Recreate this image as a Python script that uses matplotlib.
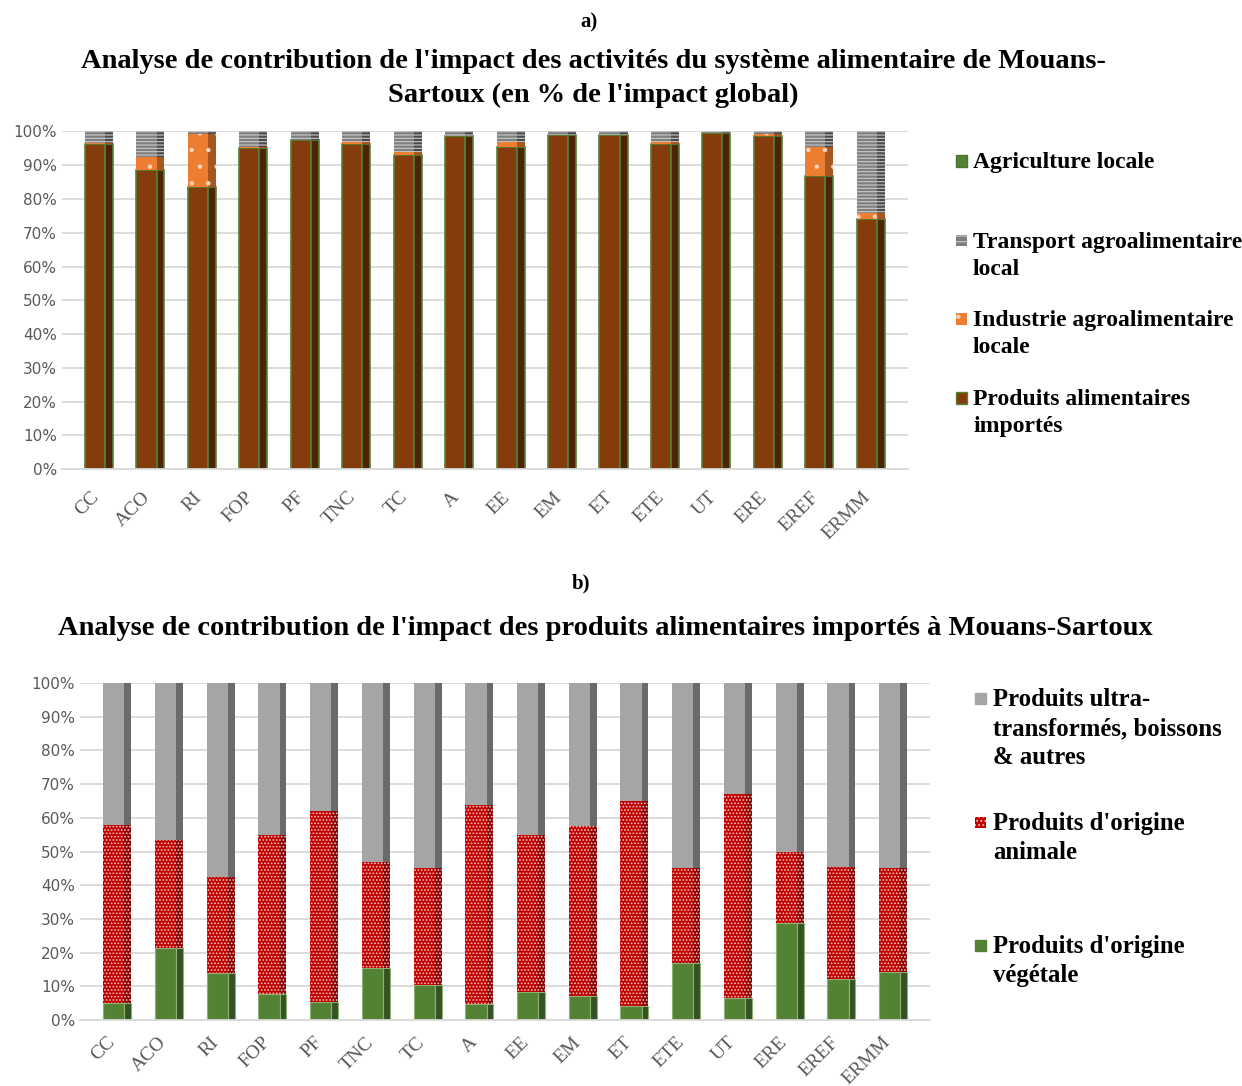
import numpy as np
import matplotlib.pyplot as plt
import matplotlib.patches as patches
import matplotlib.transforms as mtransforms

plt.rcParams['hatch.linewidth'] = 0.8

sites = ['CC', 'ACO', 'RI', 'FOP', 'PF', 'TNC', 'TC', 'A', 'EE', 'EM', 'ET',
         'ETE', 'UT', 'ERE', 'EREF', 'ERMM']

# a) contribution des activités (% de l'impact global)
importes = [96.2, 88.5, 83.4, 95.0, 97.6, 96.4, 92.9, 98.5, 95.4, 98.8, 99.0,
            96.2, 99.6, 98.6, 86.7, 74.2]
industrie = [0.3, 3.8, 15.7, 0.3, 0.0, 0.5, 1.0, 0.0, 1.5, 0.0, 0.0,
             0.7, 0.0, 0.5, 8.7, 1.7]
transport = [3.5, 7.7, 0.9, 4.7, 2.4, 3.1, 6.1, 1.5, 3.1, 1.2, 1.0,
             3.1, 0.4, 0.9, 4.6, 24.1]
agriculture = [0.0] * 16

# b) contribution des produits importés (%)
vegetal = [5.1, 21.3, 13.9, 7.6, 5.3, 15.3, 10.4, 4.6, 8.4, 7.1, 4.2,
           16.8, 6.6, 28.9, 12.2, 14.3]
animal = [52.7, 32.1, 28.5, 47.3, 56.7, 31.6, 34.7, 59.2, 46.5, 50.6, 60.8,
          28.3, 60.6, 21.0, 33.2, 30.8]
ultra = [42.2, 46.6, 57.6, 45.1, 38.0, 53.1, 54.9, 36.2, 45.1, 42.3, 35.0,
         54.9, 32.8, 50.1, 54.6, 54.9]

serif = 'Liberation Serif'
grey_txt = '#595959'

fig = plt.figure(figsize=(12.42, 10.86), dpi=100)
ax1 = fig.add_axes([0.0499, 0.568, 0.681, 0.311])
ax2 = fig.add_axes([0.0644, 0.0608, 0.6846, 0.3102])

x = np.arange(len(sites))


def bar3d(ax, vals, bottom, face, side, wf, ws, **kw):
    # face avant + petite face latérale plus sombre
    left = x - (wf + ws) / 2
    ax.bar(left, vals, wf, bottom=bottom, align='edge', color=face, **kw)
    ax.bar(left + wf, vals, ws, bottom=bottom, align='edge', color=side, **kw)


def style(ax, pad, dx):
    ax.set_xlim(-0.72, 15.72)
    ax.set_ylim(0, 100)
    ax.set_yticks(range(0, 101, 10))
    ax.set_yticklabels([f'{v}%' for v in range(0, 101, 10)], fontsize=11,
                       color=grey_txt)
    ax.set_xticks(x)
    ax.set_xticklabels(sites, rotation=45, ha='right', rotation_mode='anchor',
                       fontsize=14, color=grey_txt, family=serif)
    ax.tick_params(length=0)
    ax.tick_params(axis='x', pad=pad)
    shift = mtransforms.ScaledTranslation(dx / 100, 0, fig.dpi_scale_trans)
    for lab in ax.get_xticklabels():
        lab.set_transform(lab.get_transform() + shift)
    ax.yaxis.grid(True, color='#d9d9d9', lw=1.3)
    ax.set_axisbelow(True)
    for s in ['top', 'right', 'left']:
        ax.spines[s].set_visible(False)
    ax.spines['bottom'].set_color('#d9d9d9')
    ax.spines['bottom'].set_linewidth(1.3)


# ---- a)
b = np.zeros(16)
wf, ws = 0.39, 0.155
bar3d(ax1, importes, b, '#843C0C', '#4E2307', wf, ws, edgecolor='#548235', lw=1.2)
b = b + importes
bar3d(ax1, industrie, b, '#ED7D31', '#A8561F', wf, ws, edgecolor='#F8D3B8',
      hatch='.', lw=0)
b = b + industrie
bar3d(ax1, transport, b, '#7F7F7F', '#4A4A4A', wf, ws, edgecolor='#C8C8C8',
      hatch='-----', lw=0)
b = b + transport
bar3d(ax1, agriculture, b, '#548235', '#355224', wf, ws, lw=0)
style(ax1, 14, -9)

# ---- b)
b = np.zeros(16)
wf, ws = 0.41, 0.13
bar3d(ax2, vegetal, b, '#548235', '#355224', wf, ws, edgecolor='#8FB070', lw=0.8)
b = b + vegetal
bar3d(ax2, animal, b, '#C00000', '#8A0000', wf, ws, edgecolor='#F4C4C4',
      hatch='.....', lw=0)
b = b + animal
bar3d(ax2, ultra, b, '#A5A5A5', '#6A6A6A', wf, ws, lw=0)
style(ax2, 10, -11)

# ---- titres
fig.text(0.474, 0.979, 'a)', ha='center', va='center', family=serif,
         fontweight='bold', fontsize=15)
fig.text(0.478, 0.9275, "Analyse de contribution de l'impact des activités du système alimentaire de Mouans-\nSartoux (en % de l'impact global)",
         ha='center', va='center', family=serif, fontweight='bold',
         fontsize=20.5, linespacing=1.45)
fig.text(0.468, 0.463, 'b)', ha='center', va='center', family=serif,
         fontweight='bold', fontsize=15)
fig.text(0.487, 0.421, "Analyse de contribution de l'impact des produits alimentaires importés à Mouans-Sartoux",
         ha='center', va='center', family=serif, fontweight='bold',
         fontsize=20.5)


# ---- légendes
def legend_item(xp, yp, label, face, fs, ls, edge=None, hatch=None, hatch_col=None):
    X, Y = xp / 1242, 1 - yp / 1086
    sq = 11
    r = patches.Rectangle((X - sq / 1242 / 2, Y - sq / 1086 / 2), sq / 1242,
                          sq / 1086, transform=fig.transFigure,
                          facecolor=face,
                          edgecolor=hatch_col if hatch else (edge or face),
                          hatch=hatch, lw=0 if hatch else 1)
    fig.add_artist(r)
    off = 0.40 * fs * 100 / 72
    fig.text(X + 12 / 1242, Y + off / 1086, label, ha='left', va='top',
             family=serif, fontweight='bold', fontsize=fs, linespacing=ls)


legend_item(961, 161, 'Agriculture locale', '#548235', 17, 1.38, '#4a7330')
legend_item(961, 241, 'Transport agroalimentaire\nlocal', '#7F7F7F', 17, 1.38,
            hatch='---', hatch_col='#C8C8C8')
legend_item(961, 319, 'Industrie agroalimentaire\nlocale', '#ED7D31', 17, 1.38,
            hatch='.', hatch_col='#F8D3B8')
legend_item(961, 398, 'Produits alimentaires\nimportés', '#843C0C', 17, 1.38,
            '#548235')

legend_item(981, 698, 'Produits ultra-\ntransformés, boissons\n& autres',
            '#A5A5A5', 17.8, 1.33)
legend_item(981, 822, "Produits d'origine\nanimale", '#C00000', 17.8, 1.33,
            hatch='....', hatch_col='#F4C4C4')
legend_item(981, 945, "Produits d'origine\nvégétale", '#548235', 17.8, 1.33)

fig.savefig('out.png', dpi=100)
